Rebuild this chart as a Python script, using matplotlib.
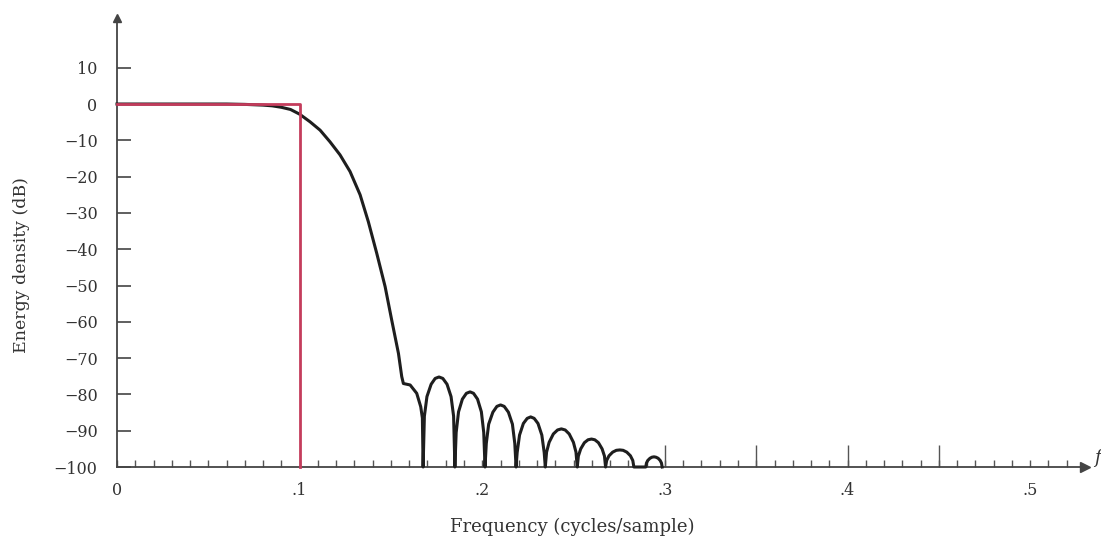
import matplotlib.pyplot as plt

plt.rcParams['font.family'] = ['DejaVu Serif']

# ideal lowpass response (red)
ideal_f = [0.0, 0.1, 0.1]
ideal_db = [0, 0, -100]

# passband + transition of the actual filter
main_f = [0.0, 0.02, 0.04, 0.06, 0.07, 0.08, 0.085, 0.09, 0.095, 0.1, 0.1057, 0.1112,
          0.1166, 0.1221, 0.1276, 0.1331, 0.1376, 0.1422, 0.1468, 0.1504, 0.1541,
          0.1559, 0.1568, 0.1605, 0.1641, 0.1663, 0.1672, 0.1676]
main_db = [0, 0, 0, 0, -0.1, -0.3, -0.5, -0.9, -1.5, -2.8, -4.9, -7.2,
           -10.4, -14, -18.6, -25, -32.4, -41.1, -50.3, -59.5, -68.7,
           -75.1, -77, -77.4, -79.7, -83.4, -86.5, -100]

# sidelobes, null to null
lobe_f = [
    [0.1676, 0.1683, 0.1697, 0.1720, 0.1742, 0.1763, 0.1784, 0.1807, 0.1829, 0.1843, 0.1850],
    [0.1850, 0.1857, 0.1870, 0.1891, 0.1913, 0.1933, 0.1952, 0.1974, 0.1995, 0.2008, 0.2015],
    [0.2015, 0.2022, 0.2035, 0.2058, 0.2080, 0.2100, 0.2120, 0.2143, 0.2165, 0.2178, 0.2185],
    [0.2185, 0.2191, 0.2204, 0.2225, 0.2246, 0.2265, 0.2284, 0.2305, 0.2326, 0.2339, 0.2345],
    [0.2345, 0.2352, 0.2366, 0.2389, 0.2412, 0.2433, 0.2454, 0.2476, 0.2499, 0.2513, 0.2520],
    [0.2520, 0.2526, 0.2539, 0.2559, 0.2579, 0.2598, 0.2616, 0.2636, 0.2656, 0.2669, 0.2675],
    [0.2675, 0.2681, 0.2694, 0.2714, 0.2734, 0.2753, 0.2771, 0.2791, 0.2811, 0.2824, 0.2830],
    [0.2895, 0.2899, 0.2906, 0.2918, 0.2929, 0.2940, 0.2951, 0.2963, 0.2974, 0.2981, 0.2985],
]
lobe_db = [
    [-100, -86.0, -80.6, -77.2, -75.6, -75.2, -75.6, -77.2, -80.6, -86.0, -100],
    [-100, -90.5, -84.8, -81.3, -79.7, -79.3, -79.7, -81.3, -84.8, -90.5, -100],
    [-100, -93.5, -88.2, -84.9, -83.3, -82.9, -83.3, -84.9, -88.2, -93.5, -100],
    [-100, -96.0, -91.2, -88.0, -86.6, -86.2, -86.6, -88.0, -91.2, -96.0, -100],
    [-100, -95.9, -93.2, -90.9, -89.8, -89.5, -89.8, -90.9, -93.2, -95.9, -100],
    [-100, -97.0, -95.0, -93.3, -92.5, -92.3, -92.5, -93.3, -95.0, -97.0, -100],
    [-100, -98.2, -96.9, -95.9, -95.4, -95.3, -95.4, -95.9, -96.9, -98.2, -100],
    [-100, -98.9, -98.2, -97.6, -97.3, -97.2, -97.3, -97.6, -98.2, -98.9, -100],
]

ytick_vals = [-100, -90, -80, -70, -60, -50, -40, -30, -20, -10, 0, 10]
ytick_labels = ['−100', '−90', '−80', '−70', '−60', '−50', '−40', '−30', '−20', '−10', '0', '10']
xtick_vals = [0, 0.1, 0.2, 0.3, 0.4, 0.5]
xtick_labels = ['0', '.1', '.2', '.3', '.4', '.5']
tall_ticks = [0.3, 0.35, 0.4, 0.45]

freq = list(main_f)
energy = list(main_db)
for f, d in zip(lobe_f, lobe_db):
    freq += f
    energy += d

axis_col = '#444444'
text_col = '#333333'

fig = plt.figure(figsize=(11.01, 5.42), dpi=100)
ax = fig.add_axes([117 / 1101, 1 - 467 / 542, 968 / 1101, 449 / 542])
ax.set_xlim(0, 0.53)
ax.set_ylim(-100, 23.7)

ax.plot(freq, energy, color='#1e1e1e', lw=2.2, clip_on=False, zorder=3,
        solid_joinstyle='round')
ax.plot(ideal_f, ideal_db, color='#c43c5c', lw=2.0, clip_on=False, zorder=4)

for s in ['top', 'right']:
    ax.spines[s].set_visible(False)
for s in ['left', 'bottom']:
    ax.spines[s].set_color(axis_col)
    ax.spines[s].set_linewidth(1.3)

# arrow heads
ax.plot([0.53], [-100], marker='>', color=axis_col, ms=7, clip_on=False)
ax.plot([0], [23.7], marker='^', color=axis_col, ms=6, clip_on=False)

ax.set_yticks(ytick_vals, ytick_labels)
ax.tick_params(axis='y', direction='in', length=10, width=1.2, color=axis_col,
               pad=14, labelsize=11.5, labelcolor=text_col)
ax.set_xticks(xtick_vals, xtick_labels)
ax.set_xticks([i / 100 for i in range(1, 53)], minor=True)
ax.tick_params(axis='x', which='both', direction='in', length=5, width=1.0,
               color='#555555', pad=11, labelsize=11.5, labelcolor=text_col)
ax.vlines(tall_ticks, -100, -94, color='#555555', lw=1.0)

ax.text(0.535, -100, 'f', style='italic', fontsize=13, color=text_col,
        va='bottom', ha='left', clip_on=False)

fig.text(22 / 1101, 1 - 265 / 542, 'Energy density (dB)', rotation=90,
         ha='center', va='center', fontsize=12.5, color=text_col)
fig.text(572 / 1101, 1 - 527 / 542, 'Frequency (cycles/sample)',
         ha='center', va='center', fontsize=13, color=text_col)

fig.savefig('out.png', dpi=100)
